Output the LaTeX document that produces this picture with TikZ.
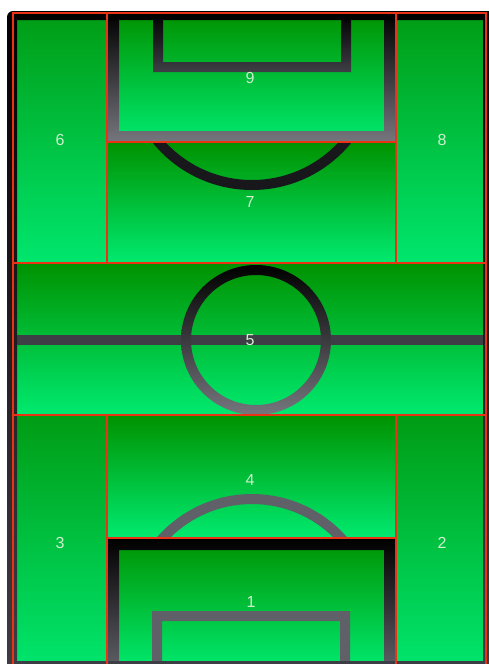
\documentclass[tikz,border=0pt]{standalone}
\usepackage{fontspec}
\setmainfont{Liberation Sans}
\definecolor{ztop}{RGB}{0,146,0}
\definecolor{zbot}{RGB}{0,234,112}
\definecolor{ttop}{RGB}{0,156,20}
\definecolor{tbot}{RGB}{0,230,110}
\definecolor{lgray}{RGB}{118,118,126}
\definecolor{dgray}{RGB}{62,62,70}
\definecolor{mgray}{RGB}{96,96,104}
\definecolor{arcblack}{RGB}{24,24,28}
\definecolor{labc}{RGB}{205,240,205}
\definecolor{redl}{RGB}{236,50,20}
\tikzset{
  zone/.style={top color=ztop,bottom color=zbot},
  tallzone/.style={top color=ttop,bottom color=tbot},
  redline/.style={draw=redl,line width=1.2pt},
  lab/.style={text=labc,font=\fontsize{16}{16}\selectfont}
}
\begin{document}
\begin{tikzpicture}[x=1pt,y=-1pt]
\useasboundingbox (0,0) rectangle (488,664);
\fill[white] (0,0) rectangle (488,664);
% zones
\shade[tallzone] (13,13) rectangle (107,263);
\shade[zone] (107,13) rectangle (396,142);
\shade[zone] (107,142) rectangle (396,263);
\shade[tallzone] (396,13) rectangle (486,263);
\shade[zone] (13,263) rectangle (486,415);
\shade[tallzone] (13,415) rectangle (107,670);
\shade[zone] (107,415) rectangle (396,538);
\shade[zone] (107,538) rectangle (396,670);
\shade[tallzone] (396,415) rectangle (486,670);
% top penalty box and goal box
\shade[even odd rule,top color=black,bottom color=lgray] (107,13) rectangle (396,142) (119,13) rectangle (384,131);
\shade[even odd rule,top color=black,bottom color=dgray] (153,13) rectangle (351,72) (163,13) rectangle (341,62);
% top arc
\begin{scope}
  \clip (107,142) rectangle (396,263);
  \fill[arcblack,even odd rule] (252,62) circle (128pt) (252,62) circle (118pt);
\end{scope}
% halfway line and centre circle
\fill[dgray] (13,335) rectangle (486,345);
\shade[even odd rule,top color=black,bottom color=lgray] (256,340) circle (75pt) (256,340) circle (65pt);
% bottom arc
\begin{scope}
  \clip (107,415) rectangle (396,538);
  \fill[mgray,even odd rule] (252,620) circle (126pt) (252,620) circle (116pt);
\end{scope}
% bottom penalty box and goal box
\shade[even odd rule,top color=black,bottom color=mgray] (107,538) rectangle (396,670) (119,550) rectangle (384,670);
\fill[mgray,even odd rule] (152,611) rectangle (350,670) (162,621) rectangle (340,670);
% outer frame
\shade[even odd rule,top color=black,bottom color=dgray] (7,11) [rounded corners=6pt] rectangle (496,674) [sharp corners] (17,20) rectangle (483,661);
% red zone borders
\draw[redline] (13,13) rectangle (486,670);
\draw[redline] (107,13) -- (107,263) (396,13) -- (396,263);
\draw[redline] (107,142) -- (396,142);
\draw[redline] (13,263) -- (486,263) (13,415) -- (486,415);
\draw[redline] (107,415) -- (107,670) (396,415) -- (396,670);
\draw[redline] (107,538) -- (396,538);
% labels
\node[lab] (z6) at (60,140) {6};
\node[lab] (z9) at (250,78) {9};
\node[lab] (z8) at (442,140) {8};
\node[lab] (z7) at (250,202) {7};
\node[lab] (z5) at (250,340) {5};
\node[lab] (z4) at (250,480) {4};
\node[lab] (z3) at (60,543) {3};
\node[lab] (z2) at (442,543) {2};
\node[lab] (z1) at (251,602) {1};
\end{tikzpicture}
\end{document}
